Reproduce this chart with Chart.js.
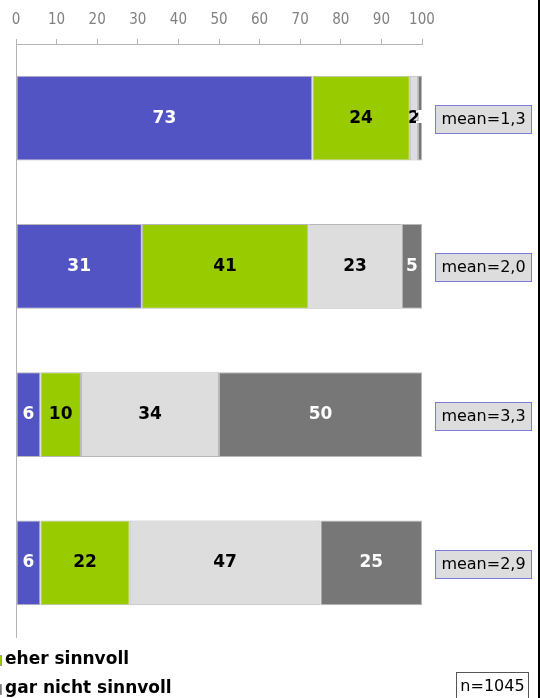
<!DOCTYPE html>
<html>
<head>
<meta charset="utf-8">
<script src="https://cdn.jsdelivr.net/npm/chart.js@4/dist/chart.umd.min.js"></script>
<style>
html,body{margin:0;padding:0;background:#fff;}
canvas{display:block;}
</style>
</head>
<body>
<canvas id="c" width="540" height="698"></canvas>
<script>
// ---- data ----
const categories = ["Item 1", "Item 2", "Item 3", "Item 4"];
const seriesNames = ["sehr sinnvoll", "eher sinnvoll", "eher nicht sinnvoll", "gar nicht sinnvoll"];
const sehrSinnvoll = [73, 31, 6, 6];
const eherSinnvoll = [24, 41, 10, 22];
const eherNichtSinnvoll = [2, 23, 34, 47];
const garNichtSinnvoll = [1, 5, 50, 25];
const means = ["mean=1,3", "mean=2,0", "mean=3,3", "mean=2,9"];
const sampleSize = "n=1045";
const xTicks = [0, 10, 20, 30, 40, 50, 60, 70, 80, 90, 100];

const colors = ["#5254C4", "#99CC00", "#DDDDDD", "#777777"];
const labelColors = ["#FFFFFF", "#000000", "#000000", "#FFFFFF"];
const seriesValues = [sehrSinnvoll, eherSinnvoll, eherNichtSinnvoll, garNichtSinnvoll];

const datasets = seriesValues.map((vals, i) => ({
  label: seriesNames[i],
  data: vals,
  backgroundColor: colors[i],
  borderColor: "#B8B8B8",
  borderWidth: 1,
  borderSkipped: false,
  categoryPercentage: 1.0,
  barPercentage: 0.573
}));

const decorPlugin = {
  id: "decor",
  afterDatasetsDraw(chart) {
    const ctx = chart.ctx;
    ctx.save();
    // value labels
    ctx.font = "bold 17px 'DejaVu Sans', Verdana, sans-serif";
    ctx.textAlign = "center";
    ctx.textBaseline = "middle";
    chart.data.datasets.forEach((ds, di) => {
      const meta = chart.getDatasetMeta(di);
      meta.data.forEach((el, i) => {
        const cx = (el.x + el.base) / 2;
        ctx.fillStyle = labelColors[di];
        ctx.fillText(String(ds.data[i]), cx, el.y);
      });
    });
    // mean boxes
    const meta0 = chart.getDatasetMeta(0);
    ctx.font = "16px 'DejaVu Sans', Verdana, sans-serif";
    meta0.data.forEach((el, i) => {
      const y = Math.round(el.y + 1);
      const bx = 435.5, bw = 96, bh = 28;
      const by = y - bh / 2 + 0.5;
      ctx.fillStyle = "#DDDDDD";
      ctx.fillRect(bx, by, bw, bh);
      ctx.strokeStyle = "#7B7BDC";
      ctx.lineWidth = 1;
      ctx.strokeRect(bx, by, bw, bh);
      ctx.fillStyle = "#000000";
      ctx.textAlign = "center";
      ctx.fillText(means[i], bx + bw / 2, y + 1);
    });
    // legend (partially cropped on the left)
    ctx.textAlign = "left";
    ctx.font = "bold 17px 'DejaVu Sans', Verdana, sans-serif";
    const legendItems = [[1, 660], [3, 689]];
    legendItems.forEach(([si, ly]) => {
      ctx.fillStyle = colors[si];
      ctx.fillRect(-9, ly - 5, 10, 10);
      ctx.strokeStyle = "#999999";
      ctx.strokeRect(-8.5, ly - 4.5, 10, 10);
      ctx.fillStyle = "#000000";
      ctx.fillText(seriesNames[si], 5, ly);
    });
    // n box
    ctx.fillStyle = "#FFFFFF";
    ctx.fillRect(456.5, 672.5, 72, 30);
    ctx.strokeStyle = "#555555";
    ctx.strokeRect(456.5, 672.5, 72, 30);
    ctx.fillStyle = "#000000";
    ctx.font = "16px 'DejaVu Sans', Verdana, sans-serif";
    ctx.textAlign = "center";
    ctx.fillText(sampleSize, 492.5, 687);
    // right frame line
    ctx.fillStyle = "#000000";
    ctx.fillRect(538, 0, 2, 698);
    ctx.restore();
  }
};

new Chart(document.getElementById("c"), {
  type: "bar",
  data: { labels: categories, datasets },
  options: {
    indexAxis: "y",
    responsive: false,
    devicePixelRatio: 1,
    animation: false,
    layout: { padding: { left: 0, right: 118, top: 0, bottom: 61 } },
    plugins: { legend: { display: false }, tooltip: { enabled: false } },
    scales: {
      x: {
        position: "top",
        stacked: true,
        min: 0,
        max: 100,
        afterBuildTicks(scale) { scale.ticks = xTicks.map(v => ({ value: v })); },
        afterFit(scale) { scale.height = 44; },
        ticks: {
          color: "#808080",
          padding: 10,
          font: { family: "'DejaVu Sans Condensed', 'DejaVu Sans', sans-serif", size: 15 },
          maxRotation: 0
        },
        grid: { display: true, drawOnChartArea: false, drawTicks: true, tickLength: 5, color: "#B4B4B4" },
        border: { display: true, color: "#B4B4B4", width: 1 }
      },
      y: {
        stacked: true,
        afterFit(scale) { scale.width = 16; },
        ticks: { display: false },
        grid: { display: false },
        border: { display: true, color: "#B4B4B4", width: 1 }
      }
    }
  },
  plugins: [decorPlugin]
});
</script>
</body>
</html>
